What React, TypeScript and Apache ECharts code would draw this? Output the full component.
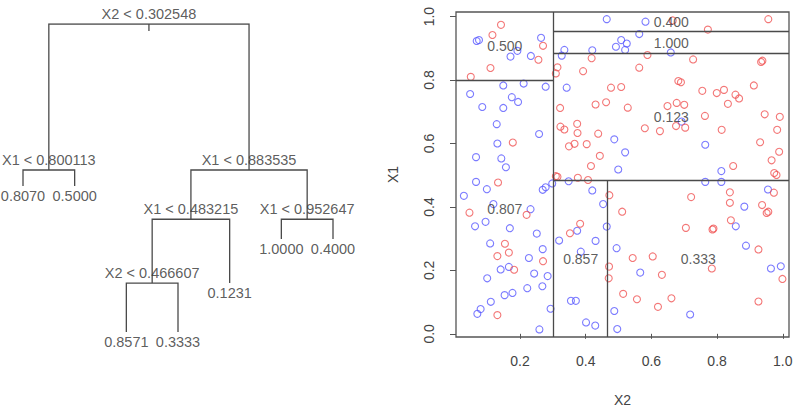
import React, { useEffect, useRef } from "react";
import * as echarts from "echarts";

// ---------- scatter axes ----------
const xTicks = [0.2, 0.4, 0.6, 0.8, 1.0];
const yTicks = [0.0, 0.2, 0.4, 0.6, 0.8, 1.0];
const xRange = [0.005, 1.019];
const yRange = [-0.01, 1.0145];

// ---------- tree (R node numbering) ----------
const splitNodes = [1, 2, 3, 6, 7, 12];
const splitVars = ["X2", "X1", "X1", "X1", "X1", "X2"];
const splitValues = [0.302548, 0.800113, 0.883535, 0.483215, 0.952647, 0.466607];
const leafNodes = [4, 5, 24, 25, 13, 14, 15]; // left-to-right order
const leafValues = [0.807, 0.5, 0.8571, 0.3333, 0.1231, 1.0, 0.4];
const heightNodes = [1, 2, 3, 4, 5, 6, 7, 12, 13, 14, 15, 24, 25];
const nodeHeights = [50, 26.3, 26.3, 23.7, 23.7, 18.3, 18.3, 7.95, 7.95, 15.1, 15.1, 0, 0];

// ---------- observations (X2, X1) ----------
const bluePoints = [
  [0.068, 0.923], [0.075, 0.926], [0.264, 0.933], [0.192, 0.892], [0.171, 0.874], [0.233, 0.876],
  [0.048, 0.756], [0.149, 0.783], [0.211, 0.789], [0.278, 0.779], [0.085, 0.715], [0.149, 0.712],
  [0.175, 0.746], [0.194, 0.731], [0.129, 0.661], [0.258, 0.630], [0.131, 0.600], [0.066, 0.557],
  [0.143, 0.553], [0.157, 0.525], [0.066, 0.479], [0.099, 0.456], [0.029, 0.435], [0.269, 0.454],
  [0.278, 0.462], [0.298, 0.474],
  [0.464, 0.992], [0.582, 0.984], [0.563, 0.945], [0.508, 0.926], [0.492, 0.905], [0.525, 0.915],
  [0.520, 0.895], [0.335, 0.895], [0.420, 0.894], [0.327, 0.877], [0.659, 0.887], [0.342, 0.776],
  [0.692, 0.669], [0.487, 0.613], [0.520, 0.572], [0.499, 0.518], [0.764, 0.596], [0.813, 0.513],
  [0.348, 0.481], [0.420, 0.452], [0.453, 0.409], [0.764, 0.479], [0.813, 0.479], [0.955, 0.455],
  [0.119, 0.409], [0.232, 0.393], [0.063, 0.339], [0.095, 0.353], [0.169, 0.333], [0.251, 0.316],
  [0.109, 0.285], [0.227, 0.239], [0.141, 0.203], [0.166, 0.211], [0.243, 0.190], [0.100, 0.175],
  [0.222, 0.144], [0.153, 0.122], [0.177, 0.129], [0.111, 0.101], [0.080, 0.078], [0.070, 0.063],
  [0.259, 0.014], [0.269, 0.267], [0.284, 0.182], [0.268, 0.150], [0.293, 0.079],
  [0.464, 0.338], [0.374, 0.325], [0.319, 0.294], [0.430, 0.293], [0.385, 0.259], [0.494, 0.270],
  [0.355, 0.104], [0.370, 0.104], [0.401, 0.036], [0.429, 0.026], [0.487, 0.072], [0.496, 0.015],
  [0.566, 0.193], [0.718, 0.061], [0.883, 0.401], [0.857, 0.339], [0.888, 0.278], [0.964, 0.206],
  [0.994, 0.213],
];
const redPoints = [
  [0.142, 0.974], [0.116, 0.942], [0.270, 0.908], [0.256, 0.864], [0.110, 0.838], [0.050, 0.810],
  [0.178, 0.603], [0.133, 0.477],
  [0.665, 0.988], [0.956, 0.992], [0.772, 0.959], [0.588, 0.879], [0.418, 0.869], [0.727, 0.865],
  [0.934, 0.857], [0.938, 0.861], [0.314, 0.840], [0.309, 0.821], [0.392, 0.828], [0.563, 0.839],
  [0.477, 0.776], [0.508, 0.778], [0.682, 0.797], [0.690, 0.793], [0.755, 0.766], [0.799, 0.759],
  [0.821, 0.769], [0.856, 0.754], [0.867, 0.742], [0.912, 0.783], [0.322, 0.712], [0.430, 0.723],
  [0.462, 0.730], [0.528, 0.713], [0.649, 0.718], [0.677, 0.728], [0.700, 0.722], [0.833, 0.725],
  [0.945, 0.692], [0.991, 0.684], [0.763, 0.687], [0.323, 0.653], [0.335, 0.644], [0.374, 0.662],
  [0.375, 0.633], [0.438, 0.631], [0.580, 0.648], [0.626, 0.639], [0.675, 0.655], [0.703, 0.650],
  [0.814, 0.643], [0.983, 0.643], [0.349, 0.591], [0.366, 0.599], [0.403, 0.598], [0.443, 0.561],
  [0.416, 0.529], [0.931, 0.604], [0.989, 0.574], [0.966, 0.547], [0.849, 0.529], [0.974, 0.507],
  [0.981, 0.501], [0.309, 0.497], [0.314, 0.495], [0.376, 0.492], [0.407, 0.485],
  [0.472, 0.437], [0.839, 0.446], [0.721, 0.431], [0.973, 0.445],
  [0.046, 0.382], [0.220, 0.375], [0.154, 0.284], [0.131, 0.245], [0.166, 0.256], [0.182, 0.202],
  [0.131, 0.059], [0.270, 0.229],
  [0.511, 0.385], [0.383, 0.347], [0.352, 0.317], [0.471, 0.212], [0.470, 0.175],
  [0.705, 0.334], [0.543, 0.239], [0.604, 0.244], [0.632, 0.186], [0.514, 0.126], [0.556, 0.109],
  [0.620, 0.085], [0.661, 0.112],
  [0.839, 0.413], [0.937, 0.406], [0.951, 0.381], [0.956, 0.385], [0.842, 0.358], [0.786, 0.329],
  [0.789, 0.332], [0.926, 0.266], [0.784, 0.206], [0.999, 0.173], [0.926, 0.102],
];

const FONT = "'Liberation Sans', Arial, Helvetica, sans-serif";
const TEXT = "#333";
const LINE = "#4a4a4a";

export default function App() {
  const ref = useRef<HTMLDivElement>(null);
  useEffect(() => {
    document.body.style.margin = "0";
    const chart = echarts.init(ref.current!, null, { renderer: "svg" });

    // ---- tree geometry ----
    const height: Record<number, number> = {};
    heightNodes.forEach((n, i) => (height[n] = nodeHeights[i]));
    const xPos: Record<number, number> = {};
    leafNodes.forEach((n, i) => (xPos[n] = i + 1));
    const getX = (n: number): number => {
      if (xPos[n] !== undefined) return xPos[n];
      xPos[n] = (getX(2 * n) + getX(2 * n + 1)) / 2;
      return xPos[n];
    };
    const treeLines: any[] = [];
    const treeLabels: any[] = [];
    splitNodes.forEach((n, i) => {
      const x = getX(n);
      const y = height[n];
      const l = 2 * n, r = 2 * n + 1;
      treeLines.push({
        coords: [[getX(l), height[l]], [getX(l), y], [getX(r), y], [getX(r), height[r]]],
      });
      treeLabels.push({
        value: [x, y],
        label: { formatter: `${splitVars[i]} < ${splitValues[i].toFixed(6)}`, position: "top", distance: 2 },
      });
    });
    const root = splitNodes[0];
    treeLines.push({ coords: [[getX(root), height[root]], [getX(root), height[root] - 1.15]] });
    leafNodes.forEach((n, i) => {
      treeLabels.push({
        value: [getX(n), height[n]],
        label: { formatter: leafValues[i].toFixed(4), position: "bottom", distance: 2 },
      });
    });

    // ---- partition geometry ----
    const splitIdx: Record<number, number> = {};
    splitNodes.forEach((n, i) => (splitIdx[n] = i));
    const leafIdx: Record<number, number> = {};
    leafNodes.forEach((n, i) => (leafIdx[n] = i));
    const partLines: any[] = [];
    const partLabels: any[] = [];
    const walk = (n: number, x0: number, x1: number, y0: number, y1: number) => {
      if (splitIdx[n] === undefined) {
        partLabels.push({
          value: [(x0 + x1) / 2, (y0 + y1) / 2],
          label: { formatter: leafValues[leafIdx[n]].toFixed(3) },
        });
        return;
      }
      const i = splitIdx[n];
      const s = splitValues[i];
      if (splitVars[i] === "X2") {
        partLines.push({ coords: [[s, y0], [s, y1]] });
        walk(2 * n, x0, s, y0, y1);
        walk(2 * n + 1, s, x1, y0, y1);
      } else {
        partLines.push({ coords: [[x0, s], [x1, s]] });
        walk(2 * n, x0, x1, y0, s);
        walk(2 * n + 1, x0, x1, s, y1);
      }
    };
    walk(root, xRange[0], xRange[1], yRange[0], yRange[1]);

    const axisText = { fontSize: 14, color: "#444", fontFamily: FONT };

    chart.setOption({
      animation: false,
      textStyle: { fontFamily: FONT },
      grid: [
        { left: 23, top: 24, width: 310, height: 308, show: false },
        {
          left: 456, top: 12, width: 333, height: 333, show: true,
          borderColor: "#555", borderWidth: 1.3, backgroundColor: "transparent",
        },
      ],
      xAxis: [
        { gridIndex: 0, type: "value", min: 1, max: 7, show: false },
        {
          gridIndex: 1, type: "value", min: xRange[0], max: xRange[1],
          name: "X2", nameLocation: "middle", nameGap: 56,
          nameTextStyle: { fontSize: 14, color: "#444", fontFamily: FONT },
          axisLine: { show: false },
          axisTick: { show: true, length: 5, customValues: xTicks, lineStyle: { color: "#555" } },
          axisLabel: { ...axisText, margin: 17, customValues: xTicks, formatter: (v: number) => v.toFixed(1) },
          splitLine: { show: false },
        },
      ],
      yAxis: [
        { gridIndex: 0, type: "value", min: 0, max: 50, show: false },
        {
          gridIndex: 1, type: "value", min: yRange[0], max: yRange[1],
          name: "X1", nameLocation: "middle", nameGap: 56, nameRotate: 90,
          nameTextStyle: { fontSize: 14, color: "#444", fontFamily: FONT },
          axisLine: { show: false },
          axisTick: { show: true, length: 6, customValues: yTicks, lineStyle: { color: "#555" } },
          axisLabel: { ...axisText, margin: 20, rotate: 90, customValues: yTicks, formatter: (v: number) => v.toFixed(1) },
          splitLine: { show: false },
        },
      ],
      series: [
        {
          type: "lines", coordinateSystem: "cartesian2d", xAxisIndex: 0, yAxisIndex: 0,
          polyline: true, silent: true, data: treeLines,
          lineStyle: { color: LINE, width: 1.3, opacity: 1 },
        },
        {
          type: "scatter", xAxisIndex: 0, yAxisIndex: 0, symbolSize: 1, silent: true,
          itemStyle: { color: "rgba(0,0,0,0)" }, data: treeLabels,
          label: { show: true, fontSize: 14.5, color: TEXT, fontFamily: FONT },
        },
        {
          type: "scatter", xAxisIndex: 1, yAxisIndex: 1, symbol: "circle", symbolSize: 7, silent: true,
          itemStyle: { color: "rgba(0,0,0,0)", borderColor: "#5a5aff", borderWidth: 1.1 },
          data: bluePoints, z: 2,
        },
        {
          type: "scatter", xAxisIndex: 1, yAxisIndex: 1, symbol: "circle", symbolSize: 7, silent: true,
          itemStyle: { color: "rgba(0,0,0,0)", borderColor: "#f05555", borderWidth: 1.1 },
          data: redPoints, z: 2,
        },
        {
          type: "lines", coordinateSystem: "cartesian2d", xAxisIndex: 1, yAxisIndex: 1,
          silent: true, data: partLines, z: 3,
          lineStyle: { color: LINE, width: 1.3, opacity: 1 },
        },
        {
          type: "scatter", xAxisIndex: 1, yAxisIndex: 1, symbolSize: 1, silent: true, z: 4,
          itemStyle: { color: "rgba(0,0,0,0)" }, data: partLabels,
          label: { show: true, position: "inside", fontSize: 14, color: TEXT, fontFamily: FONT },
        },
      ],
    });
    return () => chart.dispose();
  }, []);
  return <div ref={ref} style={{ width: 797, height: 412 }} />;
}
